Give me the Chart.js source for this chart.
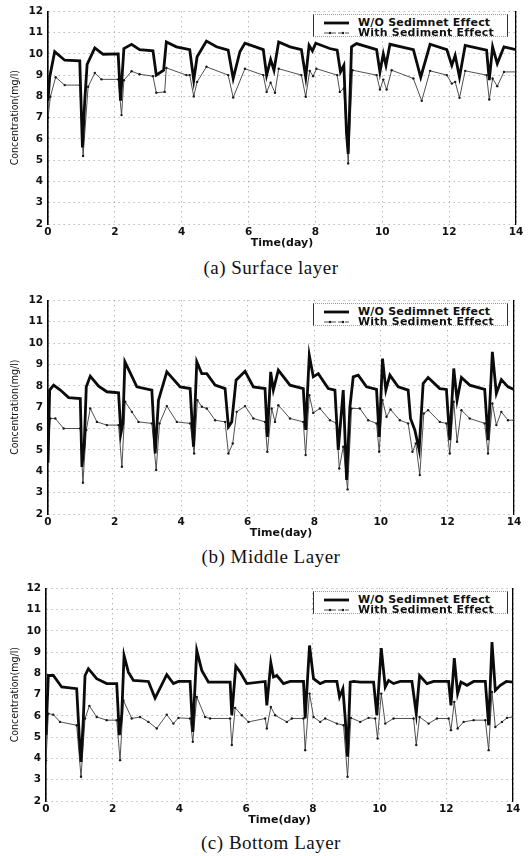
<!DOCTYPE html>
<html>
<head>
<meta charset="utf-8">
<script src="https://cdn.jsdelivr.net/npm/chart.js@4.4.1/dist/chart.umd.min.js"></script>
<style>
  body{margin:0;background:#fff;width:532px;height:856px;position:relative;overflow:hidden}
  canvas{position:absolute;left:0}
  .cap{position:absolute;left:271px;transform:translate(-50%,-50%);white-space:nowrap;
       font-family:'Liberation Serif','Times New Roman',serif;font-size:19px;letter-spacing:.5px;color:#111}
  .lg{position:absolute;left:313px;width:195px;height:23px;box-sizing:border-box;background:#fff;
      border-left:1px solid #333;border-right:1px solid #333;border-top:1px dotted #999;border-bottom:1px dotted #999;
      font:bold 11px 'DejaVu Sans',sans-serif;letter-spacing:.2px;color:#111}
  .lg .row{position:absolute;left:0;height:10px;line-height:10px;white-space:nowrap}
  .lg svg{position:absolute;left:9px;top:0}
  .lg span{position:absolute;left:44px;top:0}
</style>
</head>
<body>
<canvas id="ca"></canvas>
<canvas id="cb"></canvas>
<canvas id="cc"></canvas>
<div class="cap" style="top:268px">(a) Surface layer</div>
<div class="cap" style="top:557px">(b) Middle Layer</div>
<div class="cap" style="top:843px">(c) Bottom Layer</div>

<script>
/* 농도 시계열 (day, mg/l) — 그림에서 읽은 값 */
const SERIES_NAMES = ['W/O Sedimnet Effect', 'With Sediment Effect'];
const X_TITLE = 'Time(day)';
const Y_TITLE = 'Concentration(mg/l)';
const X_MIN = 0, X_MAX = 14, X_STEP = 2;
const Y_MIN = 2, Y_MAX = 12, Y_STEP = 1;

// (a) Surface layer
const SURF_WO = [[0,7.8],[0.05,8.9],[0.2,10.1],[0.5,9.7],[0.95,9.67],[1.03,5.6],[1.1,7.8],[1.17,9.5],[1.4,10.28],[1.65,9.98],
  [2.1,10.0],[2.17,7.8],[2.27,10.25],[2.5,10.45],[2.74,10.2],[3.14,10.14],[3.24,9.0],[3.46,9.23],[3.54,10.56],[3.84,10.33],
  [4.24,10.2],[4.36,8.76],[4.46,9.86],[4.74,10.6],[5.04,10.33],[5.39,10.17],[5.54,8.84],[5.74,10.1],[5.89,10.5],[6.44,10.2],
  [6.54,9.0],[6.66,9.73],[6.76,9.23],[6.9,10.56],[7.24,10.33],[7.58,10.2],[7.71,8.9],[7.81,10.4],[7.91,10.14],[8.01,10.5],
  [8.43,10.25],[8.65,10.17],[8.75,9.15],[8.85,9.46],[8.93,6.26],[8.98,5.3],[9.08,10.33],[9.23,10.48],[9.83,10.2],[9.93,9.15],
  [10.03,10.0],[10.11,9.46],[10.23,10.45],[10.93,10.2],[11.15,8.9],[11.43,10.45],[11.93,10.2],[12.08,9.46],[12.18,9.93],[12.31,8.9],
  [12.48,10.4],[13.12,10.17],[13.2,8.76],[13.3,10.33],[13.44,9.54],[13.64,10.33],[14,10.2]];
const SURF_WITH = [[0,7.0],[0.07,7.98],[0.23,8.9],[0.5,8.53],[0.95,8.53],[1.05,5.2],[1.2,8.45],[1.4,9.1],[1.6,8.8],[2.1,8.8],
  [2.2,7.12],[2.27,8.76],[2.5,9.18],[2.74,9.04],[3.14,8.95],[3.24,8.17],[3.49,8.21],[3.54,9.34],[4.14,9.0],[4.24,9.0],
  [4.36,8.0],[4.46,8.68],[4.74,9.39],[5.39,9.0],[5.54,7.95],[5.89,9.3],[6.44,9.0],[6.54,8.21],[6.66,8.64],[6.79,8.17],
  [6.9,9.3],[7.58,9.0],[7.71,7.98],[7.83,9.2],[7.93,8.95],[8.03,9.3],[8.65,9.0],[8.73,8.21],[8.85,8.37],[8.98,4.85],
  [9.11,9.23],[9.83,9.0],[9.93,8.32],[10.03,8.79],[10.13,8.32],[10.28,9.23],[10.93,8.84],[11.18,7.79],[11.43,9.2],[11.93,9.0],
  [12.08,8.6],[12.18,8.68],[12.31,7.93],[12.48,9.2],[13.12,9.0],[13.2,7.85],[13.3,8.84],[13.44,8.48],[13.64,9.15],[14,9.15]];

// (b) Middle Layer
const MID_WO = [[0,4.4],[0.05,7.8],[0.17,8.03],[0.37,7.8],[0.62,7.45],[0.97,7.4],[1.02,4.2],[1.09,5.3],[1.15,7.95],[1.27,8.45],
  [1.52,7.98],[1.77,7.72],[2.12,7.67],[2.19,5.77],[2.25,6.24],[2.31,9.12],[2.47,8.6],[2.67,7.95],[3.12,7.8],[3.22,4.83],
  [3.32,7.33],[3.57,8.65],[3.97,7.95],[4.27,7.87],[4.37,5.15],[4.47,9.12],[4.62,8.57],[4.77,8.57],[5.02,8.03],[5.32,7.87],
  [5.42,6.08],[5.52,6.31],[5.65,8.26],[5.92,8.68],[6.17,7.95],[6.52,7.87],[6.59,5.61],[6.69,8.65],[6.77,7.8],[6.92,8.73],
  [7.27,8.03],[7.67,7.87],[7.74,5.93],[7.85,9.43],[7.97,8.42],[8.12,8.57],[8.42,7.87],[8.62,7.8],[8.72,5.0],[8.82,6.86],
  [8.87,7.8],[8.97,3.59],[9.07,7.0],[9.17,8.42],[9.32,8.5],[9.57,7.95],[9.87,7.83],[9.95,5.61],[10.05,9.27],[10.15,7.8],
  [10.27,8.5],[10.52,7.95],[10.82,7.8],[10.89,6.47],[11.02,5.93],[11.15,5.0],[11.27,8.1],[11.42,8.39],[11.77,7.87],[11.97,7.83],
  [12.07,5.46],[12.19,8.81],[12.29,7.33],[12.42,8.39],[12.67,8.03],[13.12,7.83],[13.22,5.46],[13.35,9.59],[13.47,7.64],[13.62,8.29],
  [13.82,7.95],[14,7.83]];
const MID_WITH = [[0,5.0],[0.07,6.47],[0.22,6.47],[0.47,6.0],[0.97,6.0],[1.05,3.46],[1.15,5.93],[1.27,6.94],[1.47,6.31],[1.77,6.16],
  [2.12,6.16],[2.22,4.21],[2.32,7.25],[2.52,6.78],[2.72,6.31],[3.12,6.24],[3.25,4.06],[3.35,6.24],[3.57,7.05],[3.87,6.31],
  [4.27,6.24],[4.39,4.83],[4.49,7.33],[4.62,7.02],[4.77,6.94],[5.02,6.39],[5.32,6.31],[5.42,4.83],[5.55,5.3],[5.67,6.78],
  [5.92,7.05],[6.17,6.47],[6.52,6.31],[6.59,4.91],[6.72,6.94],[6.82,6.31],[6.92,7.09],[7.27,6.47],[7.67,6.31],[7.74,4.76],
  [7.85,7.56],[7.97,6.73],[8.17,6.94],[8.47,6.39],[8.67,6.24],[8.75,4.13],[8.87,5.15],[9.0,3.15],[9.12,6.94],[9.37,6.94],
  [9.62,6.39],[9.87,6.24],[9.95,4.91],[10.05,7.33],[10.17,6.55],[10.29,6.89],[10.57,6.39],[10.82,6.24],[10.95,4.91],[11.05,5.3],
  [11.17,3.82],[11.29,6.7],[11.42,6.86],[11.77,6.31],[11.97,6.24],[12.07,4.83],[12.19,7.25],[12.29,5.38],[12.42,6.86],[12.67,6.47],
  [13.12,6.24],[13.22,4.83],[13.35,7.17],[13.47,6.16],[13.62,6.78],[13.82,6.39],[14,6.39]];

// (c) Bottom Layer
const BOT_WO = [[0,5.1],[0.07,7.9],[0.22,7.9],[0.47,7.36],[0.92,7.28],[1.0,4.94],[1.05,3.84],[1.12,5.88],[1.17,7.9],[1.27,8.22],
  [1.52,7.75],[1.82,7.52],[2.12,7.52],[2.2,5.1],[2.27,6.03],[2.34,8.84],[2.47,8.06],[2.62,7.67],[3.07,7.62],[3.27,6.84],
  [3.62,7.94],[3.82,7.52],[3.97,7.62],[4.32,7.62],[4.4,5.25],[4.52,9.08],[4.67,8.14],[4.87,7.59],[5.52,7.59],[5.57,6.03],
  [5.69,8.34],[5.82,8.06],[6.02,7.52],[6.57,7.62],[6.62,6.5],[6.74,8.5],[6.82,7.83],[6.92,7.9],[7.12,7.52],[7.32,7.62],
  [7.72,7.62],[7.77,5.88],[7.9,9.31],[8.02,7.75],[8.22,7.52],[8.37,7.62],[8.72,7.62],[8.8,6.89],[8.9,7.28],[8.97,5.88],
  [9.04,4.08],[9.12,7.59],[9.22,7.62],[9.42,7.59],[9.82,7.59],[9.92,6.03],[10.05,9.19],[10.17,7.36],[10.27,7.67],[10.42,7.52],
  [10.62,7.62],[10.97,7.62],[11.1,6.11],[11.2,7.9],[11.42,7.52],[11.62,7.62],[12.07,7.62],[12.14,6.5],[12.24,8.72],[12.34,7.05],
  [12.44,7.59],[12.62,7.44],[12.82,7.62],[13.17,7.62],[13.27,5.56],[13.37,9.47],[13.47,7.2],[13.62,7.44],[13.8,7.62],[14,7.59]];
const BOT_WITH = [[0,3.9],[0.07,6.11],[0.22,6.06],[0.42,5.72],[0.92,5.56],[1.05,3.14],[1.17,5.88],[1.3,6.47],[1.52,5.95],[1.82,5.8],
  [2.12,5.8],[2.22,3.92],[2.32,6.73],[2.57,5.88],[2.82,5.95],[3.07,5.72],[3.32,5.41],[3.62,6.06],[3.82,5.64],[3.97,5.91],
  [4.32,5.88],[4.4,4.78],[4.52,6.89],[4.77,5.95],[4.92,5.88],[5.52,5.88],[5.57,4.63],[5.67,6.38],[5.87,6.03],[6.07,5.72],
  [6.57,5.88],[6.62,5.41],[6.74,6.42],[6.87,6.03],[7.22,5.72],[7.37,5.88],[7.72,5.88],[7.77,4.39],[7.9,7.05],[8.02,5.95],
  [8.22,5.72],[8.37,5.88],[8.72,5.64],[8.92,5.56],[9.04,3.14],[9.14,5.91],[9.42,5.72],[9.67,5.91],[9.87,5.88],[9.94,4.94],
  [10.05,7.05],[10.17,5.64],[10.42,5.88],[11.02,5.88],[11.1,4.63],[11.2,5.95],[11.47,5.64],[11.72,5.88],[12.07,5.88],[12.14,5.33],
  [12.24,6.66],[12.34,5.41],[12.52,5.72],[12.82,5.8],[13.17,5.8],[13.27,4.39],[13.37,7.13],[13.47,5.48],[13.67,5.72],[13.82,5.91],
  [14,5.95]];

/* 패널 배치 (px) */
const PANELS = [
  {id:'ca', top:0,   plotTop:11,  plotBottom:224, left:48, right:516, wo:SURF_WO, wi:SURF_WITH},
  {id:'cb', top:289, plotTop:300, plotBottom:514, left:48, right:514, wo:MID_WO,  wi:MID_WITH},
  {id:'cc', top:577, plotTop:588, plotBottom:801, left:46, right:513, wo:BOT_WO,  wi:BOT_WITH}
];
const AX_H = 26;
const TICK_FONT = {family:"'DejaVu Sans',sans-serif", size:10.5, weight:'bold'};
const DOT = [1,4];
const GRID_C = '#9a9a9a';

const pts = arr => arr.map(([x,y]) => ({x, y}));

function mkPanel(p){
  const el = document.getElementById(p.id);
  el.width = 532; el.height = p.plotBottom - p.top + AX_H;
  el.style.top = p.top + 'px';
  new Chart(el, {
    type:'line',
    data:{datasets:[
      {label:SERIES_NAMES[0], data:pts(p.wo), borderColor:'#0b0b0b', borderWidth:2.8,
       pointRadius:0, tension:0},
      {label:SERIES_NAMES[1], data:pts(p.wi), borderColor:'#3c3c3c', borderWidth:0.9,
       pointRadius:1.2, pointBorderWidth:0, pointBackgroundColor:'#1a1a1a', tension:0}
    ]},
    options:{
      responsive:false, animation:false, events:[],
      layout:{padding:{top:p.plotTop - p.top, right:532 - p.right, left:0, bottom:0}},
      plugins:{legend:{display:false}, tooltip:{enabled:false}},
      scales:{
        x:{type:'linear', min:X_MIN, max:X_MAX,
           ticks:{stepSize:X_STEP, padding:2, font:TICK_FONT, color:'#111', maxRotation:0},
           grid:{color:GRID_C, lineWidth:1, drawTicks:false},
           border:{display:false, dash:DOT},
           title:{display:true, text:X_TITLE, color:'#111', padding:{top:0,bottom:0},
                  font:{family:"'DejaVu Sans',sans-serif", size:11, weight:'bold'}},
           afterFit:s => { s.height = AX_H; }},
        y:{min:Y_MIN, max:Y_MAX,
           ticks:{stepSize:Y_STEP, padding:5, font:TICK_FONT, color:'#111'},
           grid:{color:GRID_C, lineWidth:1, drawTicks:false},
           border:{display:true, color:'#000', width:1.6, dash:DOT},
           title:{display:true, text:Y_TITLE, color:'#111', padding:{top:9,bottom:0},
                  font:{family:"'Liberation Sans Narrow','DejaVu Sans Condensed',sans-serif", size:10.5}},
           afterFit:s => { s.width = p.left; }},
        y2:{position:'right', min:Y_MIN, max:Y_MAX,
            ticks:{display:false}, grid:{display:false, drawTicks:false},
            border:{display:true, color:'#000', width:1.3},
            afterFit:s => { s.width = 0; }}
      }
    }
  });

  // 범례 (박스 안 우측 상단)
  const lg = document.createElement('div');
  lg.className = 'lg';
  lg.style.top = (p.plotTop + 3) + 'px';
  lg.innerHTML =
    `<div class="row" style="top:3px"><svg width="27" height="10"><line x1="1" y1="5" x2="26" y2="5" stroke="#0b0b0b" stroke-width="2.8"/></svg><span>${SERIES_NAMES[0]}</span></div>` +
    `<div class="row" style="top:13px"><svg width="27" height="10"><line x1="1" y1="5" x2="26" y2="5" stroke="#3c3c3c" stroke-width="0.9" stroke-dasharray="5 2"/><circle cx="7" cy="5" r="1.2" fill="#1a1a1a"/><circle cx="20" cy="5" r="1.2" fill="#1a1a1a"/></svg><span>${SERIES_NAMES[1]}</span></div>`;
  document.body.appendChild(lg);
}

PANELS.forEach(mkPanel);
</script>
</body>
</html>
